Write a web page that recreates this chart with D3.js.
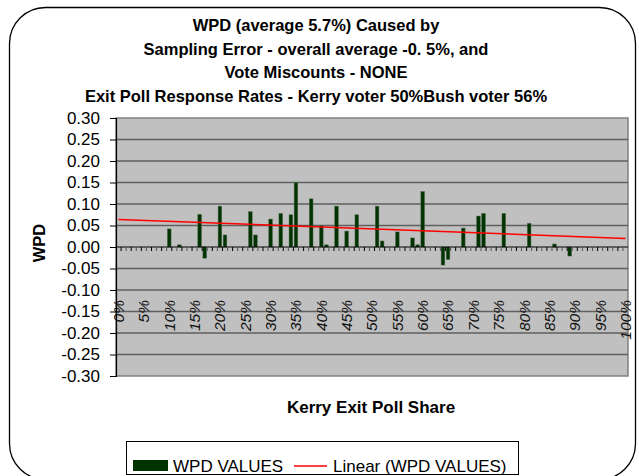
<!DOCTYPE html>
<html>
<head>
<meta charset="utf-8">
<script src="https://cdn.jsdelivr.net/npm/d3@7"></script>
<style>
  body { margin: 0; background: #fff; }
  text { font-family: "Liberation Sans", Arial, sans-serif; }
</style>
</head>
<body>
<div id="chart"></div>
<script>
// categories 0% .. 100%
const categories = d3.range(0, 101).map(d => d + "%");

// WPD values by category (null = no data)
const wpdCats   = [10, 12, 16, 17, 20, 21, 26, 27, 30, 32, 34, 35, 38, 40, 41, 43, 45, 47,
                   51, 52, 55, 58, 59, 60, 64, 65, 68, 71, 72, 76, 81, 86, 89];
const wpdValues = [0.042, 0.005, 0.076, -0.026, 0.095, 0.028, 0.082, 0.028, 0.065, 0.078, 0.075, 0.150,
                   0.112, 0.050, 0.005, 0.095, 0.037, 0.075, 0.095, 0.014, 0.035, 0.021, 0.005, 0.129,
                   -0.042, -0.029, 0.044, 0.072, 0.078, 0.078, 0.055, 0.007, -0.021];

// linear trendline, read at first and last category
const trendCats   = ["0%", "100%"];
const trendValues = [0.064, 0.020];

const yTicks = [-0.30, -0.25, -0.20, -0.15, -0.10, -0.05, 0, 0.05, 0.10, 0.15, 0.20, 0.25, 0.30];
const xLabels = categories.filter((c, i) => i % 5 === 0);

const titleLines = [
  "WPD (average 5.7%) Caused by",
  "Sampling Error - overall average -0. 5%, and",
  "Vote Miscounts - NONE",
  "Exit Poll Response Rates - Kerry voter 50%Bush voter 56%"
];

const W = 639, H = 476;
const plot = { left: 116, right: 628, top: 118, bottom: 376 };

const svg = d3.select('#chart').append('svg')
  .attr('width', W)
  .attr('height', H);

// outer chart border
svg.append('rect')
  .attr('x', 9.5).attr('y', 7.5)
  .attr('width', 626).attr('height', 472)
  .attr('rx', 36).attr('ry', 36)
  .attr('fill', '#fff')
  .attr('stroke', '#000')
  .attr('stroke-width', 1.3);

// title
svg.append('g').selectAll('text')
  .data(titleLines)
  .join('text')
  .attr('x', 316)
  .attr('y', (d, i) => 31 + i * 23.6)
  .attr('text-anchor', 'middle')
  .attr('font-weight', 'bold')
  .attr('font-size', 16.5)
  .text(d => d);

const x = d3.scaleBand()
  .domain(categories)
  .range([plot.left, plot.right])
  .paddingInner(0.28)
  .paddingOuter(0.14);

const y = d3.scaleLinear()
  .domain([-0.3, 0.3])
  .range([plot.bottom, plot.top]);

// plot background
svg.append('rect')
  .attr('x', plot.left).attr('y', plot.top)
  .attr('width', plot.right - plot.left)
  .attr('height', plot.bottom - plot.top)
  .attr('fill', '#c0c0c0')
  .attr('stroke', '#808080')
  .attr('stroke-width', 1.5);

// gridlines
svg.append('g').selectAll('line')
  .data(yTicks.filter(d => d !== 0 && d !== -0.3 && d !== 0.3))
  .join('line')
  .attr('x1', plot.left).attr('x2', plot.right)
  .attr('y1', d => y(d)).attr('y2', d => y(d))
  .attr('stroke', '#5f5f5f')
  .attr('stroke-width', 1.6);

// x category labels (rotated)
const bw = x.bandwidth();
svg.append('g').selectAll('text')
  .data(xLabels)
  .join('text')
  .attr('transform', d => `translate(${x(d) + bw / 2},300) rotate(-90)`)
  .attr('text-anchor', 'end')
  .attr('dy', '0.35em')
  .attr('font-style', 'italic')
  .attr('font-size', 15.5)
  .attr('fill', '#111')
  .text(d => d);

// bars
const barData = wpdCats.map((c, i) => ({ cat: categories[c], value: wpdValues[i] }));
svg.append('g').selectAll('rect')
  .data(barData)
  .join('rect')
  .attr('x', d => x(d.cat))
  .attr('width', bw)
  .attr('y', d => y(Math.max(0, d.value)))
  .attr('height', d => Math.abs(y(d.value) - y(0)))
  .attr('fill', '#003300')
  .attr('stroke', '#4d6b4d')
  .attr('stroke-width', 0.5);

// zero line with category ticks
const step = x.step();
const zero = svg.append('g');
zero.append('line')
  .attr('x1', plot.left).attr('x2', plot.right)
  .attr('y1', y(0)).attr('y2', y(0))
  .attr('stroke', '#000').attr('stroke-width', 1.2);
zero.selectAll('line.tick')
  .data(categories.slice(1))
  .join('line')
  .attr('class', 'tick')
  .attr('x1', d => x(d) - (step - bw) / 2)
  .attr('x2', d => x(d) - (step - bw) / 2)
  .attr('y1', y(0)).attr('y2', y(0) + 4)
  .attr('stroke', (d, i) => i % 2 ? '#555' : '#000').attr('stroke-width', 1);

// trendline
svg.append('path')
  .datum(trendCats.map((c, i) => ({ cat: c, value: trendValues[i] })))
  .attr('d', d3.line().x(d => x(d.cat) + bw / 2).y(d => y(d.value)))
  .attr('fill', 'none')
  .attr('stroke', '#ff0000')
  .attr('stroke-width', 1.5);

// y axis
const yAxis = svg.append('g')
  .attr('transform', `translate(${plot.left},0)`)
  .call(d3.axisLeft(y)
    .tickValues(yTicks)
    .tickSize(6)
    .tickPadding(10)
    .tickFormat(d => d.toFixed(2)));
yAxis.select('.domain').attr('stroke', '#000').attr('stroke-width', 1.2);
yAxis.selectAll('.tick line').attr('stroke', '#000');
yAxis.selectAll('.tick text')
  .attr('font-size', 17)
  .attr('font-family', '"Liberation Sans", Arial, sans-serif')
  .attr('fill', '#000');

// axis titles
svg.append('text')
  .attr('transform', 'translate(45,243) rotate(-90)')
  .attr('text-anchor', 'middle')
  .attr('font-weight', 'bold')
  .attr('font-size', 16.5)
  .text('WPD');

svg.append('text')
  .attr('x', 371).attr('y', 413)
  .attr('text-anchor', 'middle')
  .attr('font-weight', 'bold')
  .attr('font-size', 17)
  .text('Kerry Exit Poll Share');

// legend
const legend = svg.append('g');
legend.append('rect')
  .attr('x', 126.5).attr('y', 441.5)
  .attr('width', 392).attr('height', 33)
  .attr('fill', '#fff')
  .attr('stroke', '#000')
  .attr('stroke-width', 1);
legend.append('rect')
  .attr('x', 133).attr('y', 460)
  .attr('width', 35).attr('height', 11)
  .attr('fill', '#003300');
legend.append('text')
  .attr('x', 173).attr('y', 472)
  .attr('font-size', 17)
  .text('WPD VALUES');
legend.append('line')
  .attr('x1', 294).attr('x2', 327)
  .attr('y1', 466).attr('y2', 466)
  .attr('stroke', '#ff0000').attr('stroke-width', 1.5);
legend.append('text')
  .attr('x', 333).attr('y', 472)
  .attr('font-size', 17)
  .text('Linear (WPD VALUES)');
</script>
</body>
</html>
